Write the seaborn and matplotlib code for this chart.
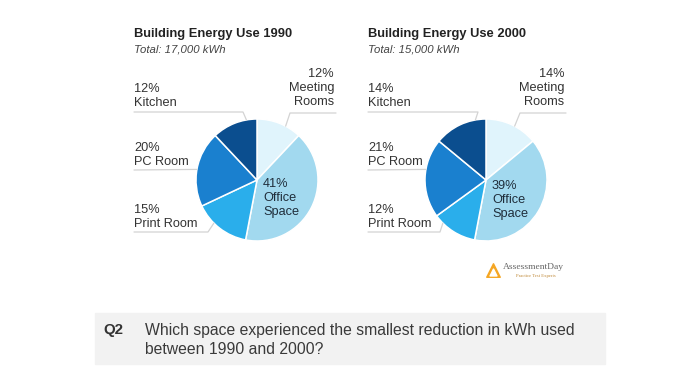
import matplotlib
matplotlib.use("Agg")
import matplotlib.pyplot as plt
import seaborn as sns
import numpy as np

sns.set_theme(style="white")
plt.rcParams["font.family"] = ["Liberation Sans", "DejaVu Sans"]

# data
spaces = ["Meeting\nRooms", "Office\nSpace", "Print Room", "PC Room", "Kitchen"]
share_1990 = [12, 41, 15, 20, 12]
share_2000 = [14, 39, 12, 21, 14]
totals = ["17,000", "15,000"]
years = ["1990", "2000"]
colors = ["#e0f4fc", "#a2d9ef", "#2aaeeb", "#1a80cf", "#0b4e8f"]

W, H = 700, 379
fig = plt.figure(figsize=(W / 100, H / 100), dpi=100)
fig.patch.set_facecolor("white")

# overlay axes in pixel coordinates for text & leader lines
ov = fig.add_axes([0, 0, 1, 1], zorder=3)
ov.set_xlim(0, W)
ov.set_ylim(H, 0)
ov.axis("off")
ov.patch.set_alpha(0)

R = 61
txt = "#333333"
fs = 9.2
ls = 1.17
lc = "#d3d3d3"

panels = [
    dict(cx=257, cy=180, left=134, right=334, office_x=263, elbow_k=243, elbow_pc=197, elbow_pr=208, elbow_m=290),
    dict(cx=486, cy=180, left=368, right=564, office_x=492, elbow_k=478, elbow_pc=430, elbow_pr=440, elbow_m=520),
]

def edge(p, ang):
    a = np.deg2rad(ang)
    return p["cx"] + R * np.cos(a), p["cy"] - R * np.sin(a)

for i, (p, vals) in enumerate(zip(panels, [share_1990, share_2000])):
    ax = fig.add_axes([(p["cx"] - R) / W, (H - p["cy"] - R) / H, 2 * R / W, 2 * R / H])
    ax.pie(vals, colors=colors, startangle=90, counterclock=False,
           wedgeprops=dict(edgecolor="white", linewidth=1.1))
    ax.set_xlim(-1, 1)
    ax.set_ylim(-1, 1)
    ax.set_aspect("auto")
    ax.axis("off")

    L = p["left"]
    ov.text(L, 34, f"Building Energy Use {years[i]}", fontsize=9.3, fontweight="bold",
            color="#222222", va="center", ha="left")
    ov.text(L, 49, f"Total: {totals[i]} kWh", fontsize=8.2, style="italic",
            color="#444444", va="center", ha="left")

    # kitchen
    ov.text(L, 96, f"{vals[4]}%\nKitchen", fontsize=fs, color=txt, va="center",
            ha="left", linespacing=ls)
    x2, y2 = edge(p, 100)
    ov.plot([L, p["elbow_k"], x2], [112, 112, y2], color=lc, lw=0.9)

    # meeting rooms
    ov.text(p["right"], 88, f"{vals[0]}%\n{spaces[0]}", fontsize=fs, color=txt,
            va="center", ha="right", multialignment="right", linespacing=ls)
    x2, y2 = edge(p, 62)
    ov.plot([p["right"] + 2, p["elbow_m"], x2], [113, 113, y2], color=lc, lw=0.9)

    # pc room
    ov.text(L, 155, f"{vals[3]}%\n{spaces[3]}", fontsize=fs, color=txt, va="center",
            ha="left", linespacing=ls)
    x2, y2 = edge(p, 170)
    ov.plot([L, x2], [170, y2], color=lc, lw=0.9)

    # print room
    ov.text(L, 217, f"{vals[2]}%\n{spaces[2]}", fontsize=fs, color=txt, va="center",
            ha="left", linespacing=ls)
    x2, y2 = edge(p, 225)
    ov.plot([L, p["elbow_pr"], x2], [232, 232, y2], color=lc, lw=0.9)

    # office space (inside)
    ov.text(p["office_x"], 198 + 2 * i, f"{vals[1]}%\n{spaces[1]}", fontsize=fs,
            color="#1f2d3a", va="center", ha="left", linespacing=ls)

# logo
ov.scatter([493], [270], marker="^", s=95, color="#f5a623", zorder=4)
ov.scatter([493], [271.5], marker="^", s=25, color="white", zorder=5)
ov.text(503, 267, "AssessmentDay", fontsize=6.8, family="Liberation Serif",
        color="#666666", va="center", ha="left")
ov.text(516, 276, "Practice Test Experts", fontsize=3.4, family="Liberation Serif",
        color="#c08a3a", va="center", ha="left")

# question box
ov.add_patch(plt.Rectangle((95, 313), 510, 51, color="#f2f2f2", zorder=1))
ov.text(103, 330, "Q2", fontsize=10.8, fontweight="bold", color="#333333",
        va="center", ha="left", zorder=2)
ov.text(145, 330, "Which space experienced the smallest reduction in kWh used",
        fontsize=11.3, color="#3a3a3a", va="center", ha="left", zorder=2)
ov.text(145, 349, "between 1990 and 2000?", fontsize=11.3, color="#3a3a3a",
        va="center", ha="left", zorder=2)

fig.savefig("out.png", dpi=100)
